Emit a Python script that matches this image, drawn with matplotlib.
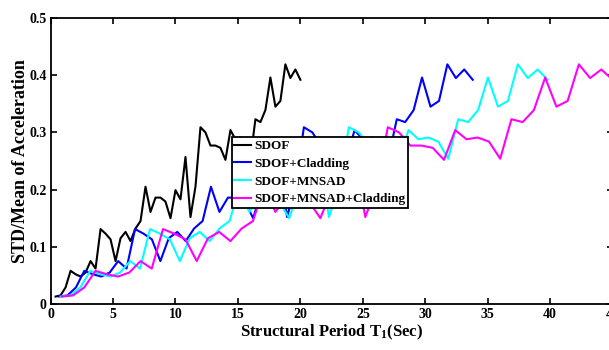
"""
STD/Mean of acceleration vs structural period for four systems.
"""
import matplotlib
matplotlib.use('Agg')
import matplotlib.pyplot as plt
import matplotlib.ticker as mticker

# periods (sec)
t_sdof = [0.4, 0.8, 1.2, 1.6, 2.0, 2.4, 2.8, 3.2, 3.6, 4.0,
          4.4, 4.8, 5.2, 5.6, 6.0, 6.4, 6.8, 7.2, 7.6, 8.0,
          8.4, 8.8, 9.2, 9.6, 10.0, 10.4, 10.8, 11.2, 11.6, 12.0,
          12.4, 12.8, 13.2, 13.6, 14.0, 14.4, 14.8, 15.2, 15.6, 16.0,
          16.4, 16.8, 17.2, 17.6, 18.0, 18.4, 18.8, 19.2, 19.6, 20.0]
t_clad = [0.68, 1.35, 2.03, 2.70, 3.38, 4.06, 4.73, 5.41, 6.08, 6.76,
          7.44, 8.11, 8.79, 9.46, 10.14, 10.82, 11.49, 12.17, 12.84, 13.52,
          14.20, 14.87, 15.55, 16.22, 16.90, 17.58, 18.25, 18.93, 19.60, 20.28,
          20.96, 21.63, 22.31, 22.98, 23.66, 24.34, 25.01, 25.69, 26.36, 27.04,
          27.72, 28.39, 29.07, 29.74, 30.42, 31.10, 31.77, 32.45, 33.12, 33.80]
t_mnsad = [0.80, 1.59, 2.39, 3.18, 3.98, 4.78, 5.57, 6.37, 7.16, 7.96,
           8.76, 9.55, 10.35, 11.14, 11.94, 12.74, 13.53, 14.33, 15.12, 15.92,
           16.72, 17.51, 18.31, 19.10, 19.90, 20.70, 21.49, 22.29, 23.08, 23.88,
           24.68, 25.47, 26.27, 27.06, 27.86, 28.66, 29.45, 30.25, 31.04, 31.84,
           32.64, 33.43, 34.23, 35.02, 35.82, 36.62, 37.41, 38.21, 39.00, 39.80]
t_both = [0.9, 1.8, 2.7, 3.6, 4.5, 5.4, 6.3, 7.2, 8.1, 9.0,
          9.9, 10.8, 11.7, 12.6, 13.5, 14.4, 15.3, 16.2, 17.1, 18.0,
          18.9, 19.8, 20.7, 21.6, 22.5, 23.4, 24.3, 25.2, 26.1, 27.0,
          27.9, 28.8, 29.7, 30.6, 31.5, 32.4, 33.3, 34.2, 35.1, 36.0,
          36.9, 37.8, 38.7, 39.6, 40.5, 41.4, 42.3, 43.2, 44.1, 45.0]

# STD/mean values (same shape for all four curves)
std_mean = [0.013, 0.015, 0.029, 0.058, 0.052, 0.048, 0.055, 0.075, 0.062, 0.131,
            0.123, 0.113, 0.075, 0.115, 0.126, 0.110, 0.132, 0.145, 0.205, 0.161,
            0.186, 0.186, 0.179, 0.150, 0.199, 0.183, 0.257, 0.152, 0.205, 0.309,
            0.300, 0.277, 0.277, 0.273, 0.252, 0.304, 0.288, 0.291, 0.284, 0.254,
            0.323, 0.318, 0.339, 0.396, 0.345, 0.355, 0.419, 0.395, 0.410, 0.392]

labels = ['SDOF', 'SDOF+Cladding', 'SDOF+MNSAD', 'SDOF+MNSAD+Cladding']
colors = ['black', '#0000ff', '#00ffff', '#ff00ff']

plt.rcParams['font.family'] = ['Liberation Serif', 'DejaVu Serif']
plt.rcParams['font.weight'] = 'bold'
plt.rcParams['mathtext.fontset'] = 'custom'
plt.rcParams['mathtext.rm'] = 'Liberation Serif:bold'
plt.rcParams['mathtext.it'] = 'Liberation Serif:bold'
plt.rcParams['mathtext.bf'] = 'Liberation Serif:bold'

fig = plt.figure(figsize=(6.09, 3.5), dpi=100)
# right spine sits just past the image edge, like the cropped original
ax = fig.add_axes([50.6 / 609, 46 / 350, 562 / 609, 286 / 350])

for t, lab, c in zip([t_sdof, t_clad, t_mnsad, t_both], labels, colors):
    ax.plot(t, std_mean, color=c, linewidth=1.5, label=lab)

ax.set_xlim(0, 45)
ax.set_ylim(0, 0.5)
ax.xaxis.set_major_locator(mticker.MultipleLocator(5))
ax.yaxis.set_major_locator(mticker.MultipleLocator(0.1))
ax.yaxis.set_major_formatter(mticker.FuncFormatter(lambda v, p: f'{v:g}'))
ax.tick_params(direction='in', top=True, right=True, length=4, width=1.2,
               labelsize=10, pad=3)
for s in ax.spines.values():
    s.set_linewidth(1.3)

ax.set_xlabel('Structural Period T$_1$(Sec)', fontsize=12, fontweight='bold', labelpad=1)
ax.set_ylabel('STD/Mean of Acceleration', fontsize=13, fontweight='bold', labelpad=0)

leg = ax.legend(loc='upper left', bbox_to_anchor=(0.322, 0.583), borderaxespad=0,
                fancybox=False, framealpha=1, edgecolor='black', fontsize=9.5,
                handlelength=1.3, handletextpad=0.2, labelspacing=0.42,
                borderpad=0.2)
leg.get_frame().set_linewidth(1.3)

plt.savefig('out.png', dpi=100)
